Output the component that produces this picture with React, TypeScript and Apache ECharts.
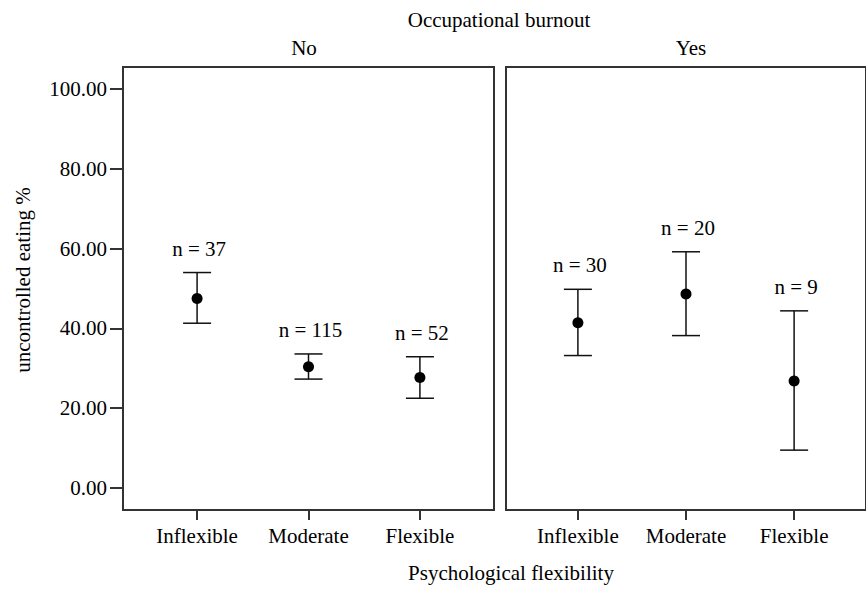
import * as echarts from 'echarts';
import { useEffect, useRef } from 'react';

// ---- data ----
const categories = ['Inflexible', 'Moderate', 'Flexible'];
const panelNames = ['No', 'Yes'];
const meanNo = [47.5, 30.4, 27.7];
const upperNo = [54.0, 33.6, 32.9];
const lowerNo = [41.3, 27.3, 22.5];
const nNo = [37, 115, 52];
const meanYes = [41.4, 48.6, 26.8];
const upperYes = [49.8, 59.2, 44.4];
const lowerYes = [33.2, 38.2, 9.5];
const nYes = [30, 20, 9];
const yTicks = [0, 20, 40, 60, 80, 100];

const FONT = 'Liberation Serif';
const FS = 21;
const LINE = '#111';
const BORDER = '#333';

const catIdx = categories.map((_, i) => i);

function rows(mean: number[], lower: number[], upper: number[], n: number[]) {
  return mean.map((m, i) => [i, m, lower[i], upper[i], n[i]]);
}

function renderItem(_params: any, api: any) {
  const x = api.value(0);
  const pMean = api.coord([x, api.value(1)]);
  const pLo = api.coord([x, api.value(2)]);
  const pHi = api.coord([x, api.value(3)]);
  const n = api.value(4);
  const cap = 14;
  const ls = { stroke: LINE, lineWidth: 1.5 };
  return {
    type: 'group',
    children: [
      { type: 'line', shape: { x1: pLo[0], y1: pLo[1], x2: pHi[0], y2: pHi[1] }, style: ls },
      { type: 'line', shape: { x1: pHi[0] - cap, y1: pHi[1], x2: pHi[0] + cap, y2: pHi[1] }, style: ls },
      { type: 'line', shape: { x1: pLo[0] - cap, y1: pLo[1], x2: pLo[0] + cap, y2: pLo[1] }, style: ls },
      { type: 'circle', shape: { cx: pMean[0], cy: pMean[1], r: 5.5 }, style: { fill: '#000' } },
      {
        type: 'text',
        x: pHi[0] + 2,
        y: pHi[1] - 24,
        style: {
          text: 'n = ' + n,
          fill: '#000',
          fontFamily: FONT,
          fontSize: FS,
          align: 'center',
          verticalAlign: 'middle',
          textAlign: 'center',
          textVerticalAlign: 'middle',
        },
      },
    ],
  };
}

const xAxisBase = (gridIndex: number) => ({
  type: 'value',
  gridIndex,
  min: -0.665,
  max: 2.665,
  position: 'bottom',
  splitLine: { show: false },
  axisLine: { show: false, onZero: false },
  axisTick: { show: true, customValues: catIdx, length: 10, lineStyle: { color: BORDER, width: 2 } },
  axisLabel: {
    customValues: catIdx,
    formatter: (v: number) => categories[Math.round(v)] ?? '',
    fontFamily: FONT,
    fontSize: FS,
    color: '#000',
    margin: 15,
  },
});

const yAxisBase = (gridIndex: number, show: boolean) => ({
  type: 'value',
  gridIndex,
  min: -5.5,
  max: 105.5,
  show,
  position: 'left',
  splitLine: { show: false },
  axisLine: { show: false, onZero: false },
  axisTick: { show: true, customValues: yTicks, length: 13, lineStyle: { color: BORDER, width: 2 } },
  axisLabel: {
    customValues: yTicks,
    formatter: (v: number) => v.toFixed(2),
    fontFamily: FONT,
    fontSize: FS,
    color: '#000',
    margin: 16,
  },
});

export default function App() {
  const ref = useRef<HTMLDivElement>(null);
  useEffect(() => {
    if (!ref.current) return;
    const chart = echarts.init(ref.current, undefined, { renderer: 'svg' });
    const gridStyle = { show: true, borderColor: BORDER, borderWidth: 2, backgroundColor: 'transparent', containLabel: false };
    const textStyle = (text: string) => ({ text, fill: '#000', fontFamily: FONT, fontSize: FS, textAlign: 'center', textVerticalAlign: 'middle', align: 'center', verticalAlign: 'middle' });
    chart.setOption({
      animation: false,
      backgroundColor: '#fff',
      grid: [
        { ...gridStyle, left: 123, top: 67, width: 371, height: 443 },
        { ...gridStyle, left: 506, top: 67, width: 371, height: 443 },
      ],
      xAxis: [xAxisBase(0), xAxisBase(1)],
      yAxis: [yAxisBase(0, true), yAxisBase(1, false)],
      series: [
        {
          type: 'custom',
          name: panelNames[0],
          xAxisIndex: 0,
          yAxisIndex: 0,
          renderItem,
          data: rows(meanNo, lowerNo, upperNo, nNo),
          clip: false,
        },
        {
          type: 'custom',
          name: panelNames[1],
          xAxisIndex: 1,
          yAxisIndex: 1,
          renderItem,
          data: rows(meanYes, lowerYes, upperYes, nYes),
          clip: false,
        },
      ],
      graphic: [
        { type: 'text', x: 499, y: 20, style: textStyle('Occupational burnout') },
        { type: 'text', x: 304, y: 48, style: textStyle(panelNames[0]) },
        { type: 'text', x: 691, y: 48, style: textStyle(panelNames[1]) },
        { type: 'text', x: 511, y: 573, style: textStyle('Psychological flexibility') },
        { type: 'text', x: 23, y: 280, rotation: Math.PI / 2, style: textStyle('uncontrolled eating %') },
      ],
    });
    return () => chart.dispose();
  }, []);
  return <div ref={ref} style={{ position: 'absolute', left: 0, top: 0, width: 866, height: 589 }} />;
}
